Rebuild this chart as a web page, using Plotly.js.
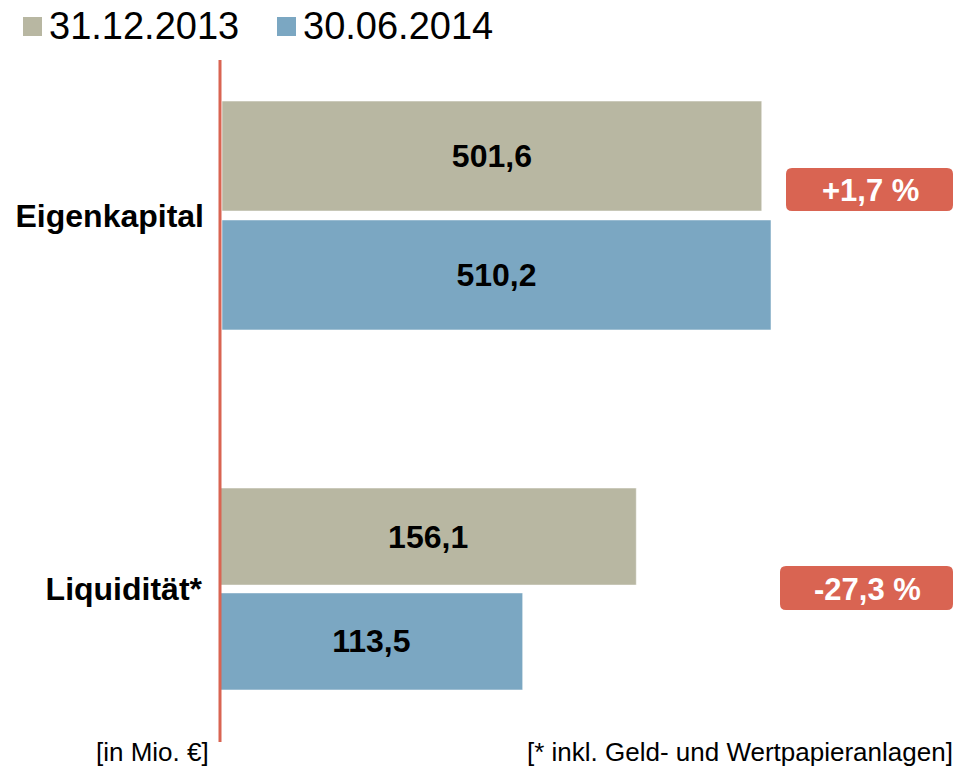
<!DOCTYPE html>
<html>
<head>
<meta charset="utf-8">
<script src="https://cdn.plot.ly/plotly-3.0.1.min.js"></script>
<style>html,body{margin:0;padding:0;background:#fff;}#chart{width:958px;height:774px;}</style>
</head>
<body>
<div id="chart"></div>
<script>
// ---- data ----
const categories = ['Eigenkapital', 'Liquidität*'];
const seriesNames = ['31.12.2013', '30.06.2014'];
const values2013 = [501.6, 156.1];
const values2014 = [510.2, 113.5];
const changeLabels = ['+1,7 %', '-27,3 %'];
const unitNote = '[in Mio. €]';
const footNote = '[* inkl. Geld- und Wertpapieranlagen]';

// ---- styles ----
const W = 958, H = 774;
const px = v => v / W;
const py = v => 1 - v / H;
const colors = ['#B8B7A2', '#7BA7C2'];
const red = '#D96452';
const FONT = 'Liberation Sans, Arial, sans-serif';
const seriesValues = [values2013, values2014];

const traces = [];
categories.forEach((cat, i) => {
  seriesValues.forEach((vals, s) => {
    traces.push({
      type: 'bar',
      orientation: 'h',
      name: seriesNames[s],
      y: [cat],
      x: [vals[i]],
      xaxis: i === 0 ? 'x' : 'x2',
      yaxis: i === 0 ? 'y' : 'y2',
      marker: {color: colors[s], line: {width: 1, color: 'rgba(255,255,255,0.5)'}},
      texttemplate: '%{x:.1f}',
      textposition: 'inside',
      insidetextanchor: 'middle',
      textfont: {family: FONT, size: 32, weight: 'bold', color: '#000'},
      showlegend: false,
      hoverinfo: 'skip'
    });
  });
});

function roundRect(x0, y0, x1, y1, r) {
  const rx = r / W, ry = r / H;
  const X0 = px(x0), X1 = px(x1), Yt = py(y0), Yb = py(y1);
  return `M${X0+rx},${Yb} L${X1-rx},${Yb} Q${X1},${Yb} ${X1},${Yb+ry} L${X1},${Yt-ry} Q${X1},${Yt} ${X1-rx},${Yt} L${X0+rx},${Yt} Q${X0},${Yt} ${X0},${Yt-ry} L${X0},${Yb+ry} Q${X0},${Yb} ${X0+rx},${Yb} Z`;
}

const badgeBoxes = [[786, 168, 953, 211], [780, 566, 953, 610]];
const shapes = [
  {type: 'line', xref: 'paper', yref: 'paper', x0: px(220), x1: px(220), y0: py(60), y1: py(742), line: {color: red, width: 3}},
  {type: 'rect', xref: 'paper', yref: 'paper', x0: px(23), x1: px(42), y0: py(36), y1: py(17), fillcolor: colors[0], line: {width: 0}},
  {type: 'rect', xref: 'paper', yref: 'paper', x0: px(277), x1: px(296), y0: py(36), y1: py(17), fillcolor: colors[1], line: {width: 0}}
];
badgeBoxes.forEach(b => shapes.push({type: 'path', xref: 'paper', yref: 'paper', path: roundRect(b[0], b[1], b[2], b[3], 6), fillcolor: red, line: {width: 0}}));

const annotations = [
  {text: seriesNames[0], x: px(47), y: py(26), xanchor: 'left', yanchor: 'middle'},
  {text: seriesNames[1], x: px(301), y: py(26), xanchor: 'left', yanchor: 'middle'}
].map(a => Object.assign(a, {xref: 'paper', yref: 'paper', showarrow: false, font: {family: FONT, size: 38, color: '#000'}}));

changeLabels.forEach((t, i) => {
  const b = badgeBoxes[i];
  annotations.push({text: t, xref: 'paper', yref: 'paper', x: px((b[0] + b[2]) / 2 + 1), y: py((b[1] + b[3]) / 2 + 1),
    xanchor: 'center', yanchor: 'middle', showarrow: false, font: {family: FONT, size: 31, weight: 'bold', color: '#fff'}});
});
annotations.push({text: unitNote, xref: 'paper', yref: 'paper', x: px(94), y: py(752), xanchor: 'left', yanchor: 'middle', showarrow: false,
  font: {family: FONT, size: 26, color: '#000'}});
annotations.push({text: footNote, xref: 'paper', yref: 'paper', x: px(955), y: py(752), xanchor: 'right', yanchor: 'middle', showarrow: false,
  font: {family: FONT, size: 26, color: '#000'}});

const xCommon = {showgrid: false, zeroline: false, showticklabels: false, showline: false, ticks: '', fixedrange: true};
const yCommon = {showgrid: false, zeroline: false, showline: false, autorange: 'reversed', type: 'category',
  ticks: '', ticklabelstandoff: 17, tickfont: {family: FONT, size: 32, weight: 'bold', color: '#000'}};

const layout = {
  width: W, height: H,
  margin: {l: 0, r: 0, t: 0, b: 0},
  paper_bgcolor: '#fff', plot_bgcolor: 'rgba(0,0,0,0)',
  separators: ',.',
  barmode: 'group', bargap: 0, bargroupgap: 0.075,
  showlegend: false,
  xaxis: Object.assign({}, xCommon, {domain: [px(222), px(771)], range: [0, Math.max(values2013[0], values2014[0])], anchor: 'y'}),
  yaxis: Object.assign({}, yCommon, {domain: [py(334.4), py(96.6)], anchor: 'x'}),
  xaxis2: Object.assign({}, xCommon, {domain: [px(220), px(886.7)], range: [0, 250], anchor: 'y2'}),
  yaxis2: Object.assign({}, yCommon, {domain: [py(693.9), py(484.1)], anchor: 'x2'}),
  shapes: shapes,
  annotations: annotations
};

Plotly.newPlot('chart', traces, layout, {staticPlot: true, displayModeBar: false});
</script>
</body>
</html>
